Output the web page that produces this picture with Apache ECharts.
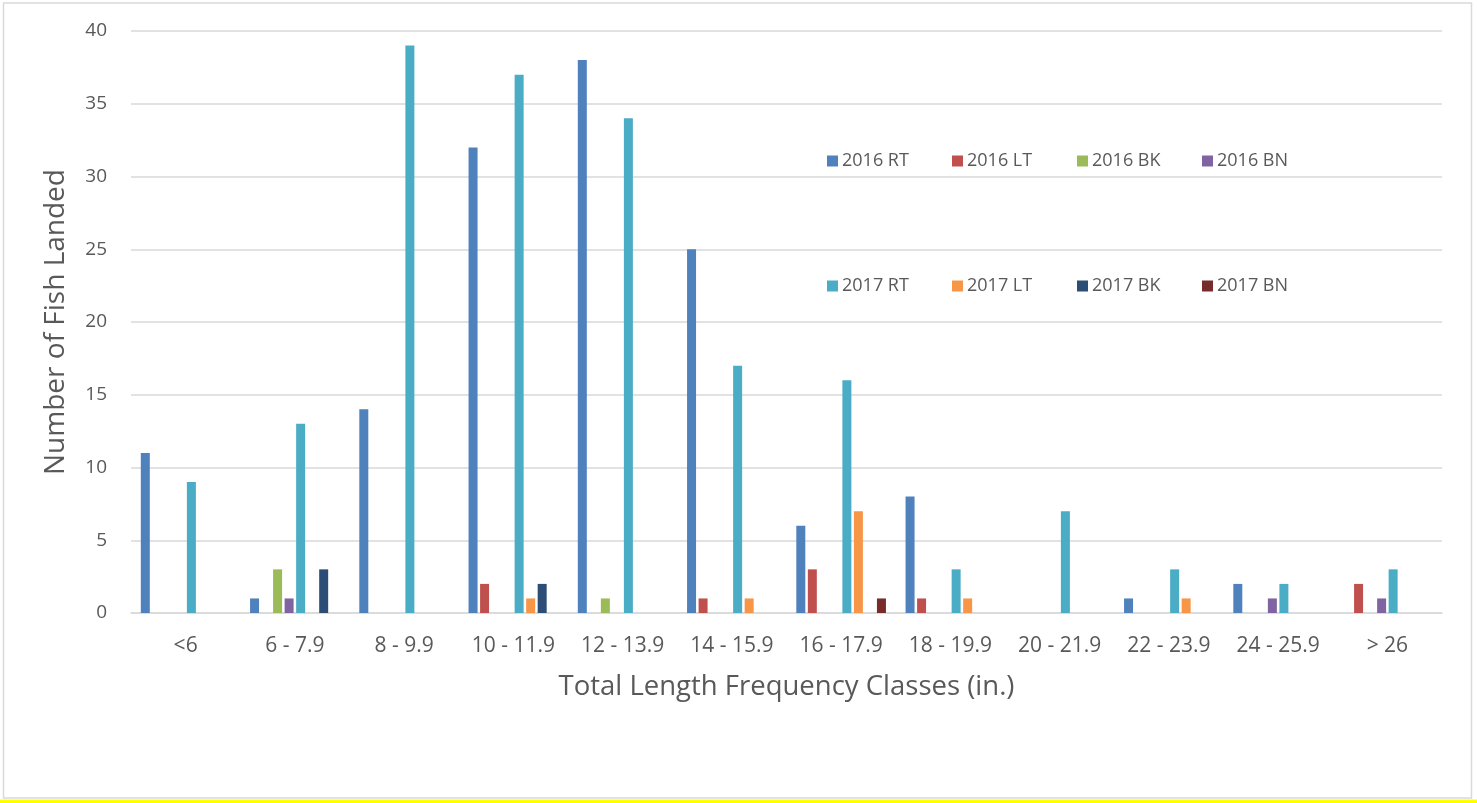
<!DOCTYPE html>
<html>
<head>
<meta charset="utf-8">
<script src="https://cdn.jsdelivr.net/npm/echarts@6/dist/echarts.min.js"></script>
<style>
html,body{margin:0;padding:0;background:#fff;}
#chart{width:1477px;height:803px;}
</style>
</head>
<body>
<div id="chart"></div>
<script>
const categories = ['<6', '6 - 7.9', '8 - 9.9', '10 - 11.9', '12 - 13.9', '14 - 15.9', '16 - 17.9', '18 - 19.9', '20 - 21.9', '22 - 23.9', '24 - 25.9', '> 26'];
const yTicks = [0, 5, 10, 15, 20, 25, 30, 35, 40];
const rt2016 = [11, 1, 14, 32, 38, 25, 6, 8, 0, 1, 2, 0];
const lt2016 = [0, 0, 0, 2, 0, 1, 3, 1, 0, 0, 0, 2];
const bk2016 = [0, 3, 0, 0, 1, 0, 0, 0, 0, 0, 0, 0];
const bn2016 = [0, 1, 0, 0, 0, 0, 0, 0, 0, 0, 1, 1];
const rt2017 = [9, 13, 39, 37, 34, 17, 16, 3, 7, 3, 2, 3];
const lt2017 = [0, 0, 0, 1, 0, 1, 7, 1, 0, 1, 0, 0];
const bk2017 = [0, 3, 0, 2, 0, 0, 0, 0, 0, 0, 0, 0];
const bn2017 = [0, 0, 0, 0, 0, 0, 1, 0, 0, 0, 0, 0];
const seriesNames = ['2016 RT', '2016 LT', '2016 BK', '2016 BN', '2017 RT', '2017 LT', '2017 BK', '2017 BN'];
const seriesData = [rt2016, lt2016, bk2016, bn2016, rt2017, lt2017, bk2017, bn2017];
const colors = ['#4F81BD', '#C0504D', '#9BBB59', '#8064A2', '#4BACC6', '#F79646', '#2C4D75', '#772C2A'];

const FONT = '"Open Sans", sans-serif';
const TXT = '#595959';

const chart = echarts.init(document.getElementById('chart'));

const legendX = [827, 952, 1077, 1202];
const legendY = [152, 277];
const legends = seriesNames.map((n, i) => ({
  data: [n],
  left: legendX[i % 4],
  top: legendY[Math.floor(i / 4)],
  orient: 'horizontal',
  itemWidth: 11,
  itemHeight: 11,
  itemGap: 0,
  padding: 0,
  icon: 'rect',
  textStyle: { fontFamily: FONT, fontSize: 18, color: TXT, padding: [0, 0, 0, -1] },
  selectedMode: false
}));

const option = {
  animation: false,
  color: colors,
  graphic: [
    { type: 'rect', shape: { x: 3.5, y: 3, width: 1468, height: 795 }, style: { fill: 'none', stroke: '#d9d9d9', lineWidth: 1.5 }, silent: true },
    { type: 'rect', shape: { x: 0, y: 799.5, width: 1477, height: 4 }, style: { fill: '#ffff00' }, silent: true }
  ],
  legend: legends,
  grid: { left: 131, right: 35, top: 31, bottom: 190, containLabel: false },
  xAxis: {
    type: 'category',
    data: categories,
    name: 'Total Length Frequency Classes (in.)',
    nameLocation: 'middle',
    nameGap: 60,
    nameTextStyle: { fontFamily: FONT, fontSize: 27.5, color: TXT },
    axisLine: { show: true, lineStyle: { color: '#d9d9d9', width: 1.5 } },
    axisTick: { show: false },
    axisLabel: { fontFamily: FONT, fontSize: 21, color: TXT, margin: 23, interval: 0 }
  },
  yAxis: {
    type: 'value',
    min: yTicks[0],
    max: yTicks[yTicks.length - 1],
    interval: 5,
    name: 'Number of Fish Landed',
    nameLocation: 'middle',
    nameGap: 61,
    nameTextStyle: { fontFamily: FONT, fontSize: 28, color: TXT },
    axisLine: { show: false },
    axisTick: { show: false },
    axisLabel: { fontFamily: FONT, fontSize: 19, color: TXT, margin: 24 },
    splitLine: { lineStyle: { color: '#d9d9d9', width: 1.5 } }
  },
  series: seriesNames.map((n, i) => ({
    name: n,
    type: 'bar',
    data: seriesData[i],
    barWidth: 9,
    barGap: '28%',
    barCategoryGap: '18%',
    itemStyle: { color: colors[i] }
  }))
};
chart.setOption(option);
</script>
</body>
</html>
